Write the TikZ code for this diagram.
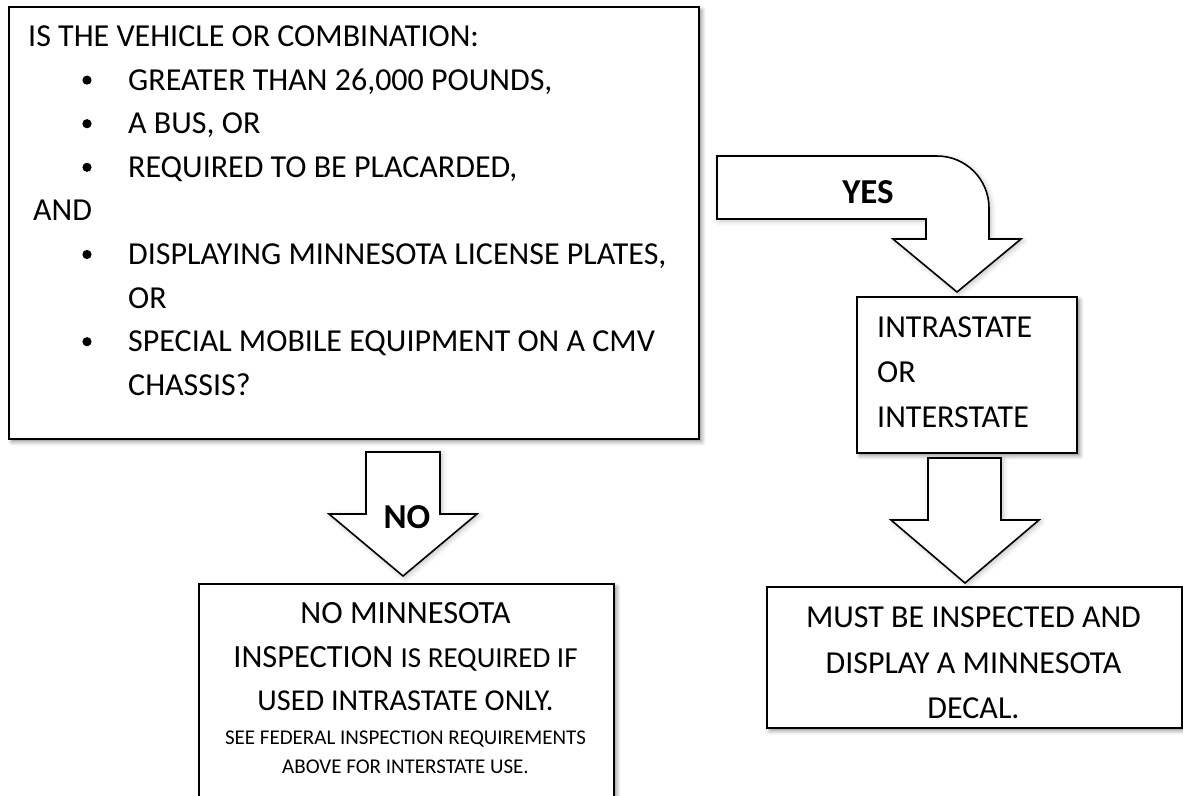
\documentclass[tikz,border=0pt]{standalone}
\usepackage{fontspec}
\setmainfont{Carlito}
\usetikzlibrary{shadows.blur}

\begin{document}
\begin{tikzpicture}[x=1pt,y=-1pt,
  box/.style={draw, line width=1.6pt, fill=white, inner sep=0pt,
    blur shadow={shadow xshift=3pt, shadow yshift=-3pt, shadow blur radius=4pt, shadow opacity=45}},
  blockarrow/.style={draw, line width=1.6pt, fill=white, line join=miter,
    blur shadow={shadow xshift=2pt, shadow yshift=-2pt, shadow blur radius=5pt, shadow opacity=25}},
  txt/.style={anchor=base west, inner sep=0pt, font=\fontsize{32}{38}\selectfont},
  ctxt/.style={anchor=base, inner sep=0pt, font=\fontsize{32}{38}\selectfont},
  small/.style={anchor=base, inner sep=0pt, font=\fontsize{21}{26}\selectfont},
  lbl/.style={inner sep=0pt, font=\fontsize{35}{40}\selectfont\bfseries}]

  \useasboundingbox (0,0) rectangle (1183,795);

  % Frage-Kasten
  \node[box, anchor=north west, minimum width=690, minimum height=432] (q) at (8,6) {};
  \node[txt] (q0) at (28,46.5) {IS THE VEHICLE OR COMBINATION:};
  \foreach \n/\t in {1/{GREATER THAN 26,000 POUNDS,}, 2/{A BUS, OR}, 3/{REQUIRED TO BE PLACARDED,},
                     5/{DISPLAYING MINNESOTA LICENSE PLATES,}, 7/{SPECIAL MOBILE EQUIPMENT ON A CMV}} {
    \fill (87,{46.5+\n*43.6-10}) circle[radius=4.6];
    \node[txt] (q\n) at (128,{46.5+\n*43.6}) {\t};
  }
  \node[txt] (q4) at (33,{46.5+4*43.6}) {AND};
  \node[txt] (q6) at (128,{46.5+6*43.6}) {OR};
  \node[txt] (q8) at (128,{46.5+8*43.6}) {CHASSIS?};

  % YES-Pfeil
  \draw[blockarrow] (717,156) -- (937,156) arc[start angle=-90, end angle=0, radius=52]
    -- (989,239) -- (1021,239) -- (957,292) -- (893,239) -- (926,239) -- (926,219) -- (717,219) -- cycle;
  \node[lbl] (yes) at (868,192) {YES};

  % mittlerer Kasten
  \node[box, anchor=north west, minimum width=220, minimum height=156] (mid) at (856,296) {};
  \node[txt] (m1) at (877,337) {INTRASTATE};
  \node[txt] (m2) at (877,382) {OR};
  \node[txt] (m3) at (877,427) {INTERSTATE};

  % Pfeil nach unten (rechts)
  \draw[blockarrow] (928,458) -- (1001,458) -- (1001,520) -- (1039,520) -- (965,583)
    -- (891,520) -- (928,520) -- cycle;

  % Kasten unten rechts
  \node[box, anchor=north west, minimum width=415, minimum height=141] (must) at (766,586) {};
  \node[ctxt] (r1) at (973.5,627) {MUST BE INSPECTED AND};
  \node[ctxt] (r2) at (973.5,673) {DISPLAY A MINNESOTA};
  \node[ctxt] (r3) at (973.5,718) {DECAL.};

  % NO-Pfeil
  \draw[blockarrow] (366,452) -- (440,452) -- (440,514) -- (477,514) -- (403,576)
    -- (329,514) -- (366,514) -- cycle;
  \node[lbl] (no) at (407,517) {NO};

  % Kasten unten links
  \node[box, anchor=north west, minimum width=415, minimum height=260] (none) at (198,583) {};
  \node[ctxt, font=\fontsize{32.4}{38}\selectfont] (n1) at (405.5,623) {NO MINNESOTA};
  \node[ctxt, font=\fontsize{32.4}{38}\selectfont] (n2) at (405.5,667) {INSPECTION {\fontsize{29}{34}\selectfont IS REQUIRED IF}};
  \node[ctxt, font=\fontsize{30.3}{36}\selectfont] (n3) at (405.5,710) {USED INTRASTATE ONLY.};
  \node[small] (n4) at (405.5,744) {SEE FEDERAL INSPECTION REQUIREMENTS};
  \node[small] (n5) at (405.5,773) {ABOVE FOR INTERSTATE USE.};

\end{tikzpicture}
\end{document}
